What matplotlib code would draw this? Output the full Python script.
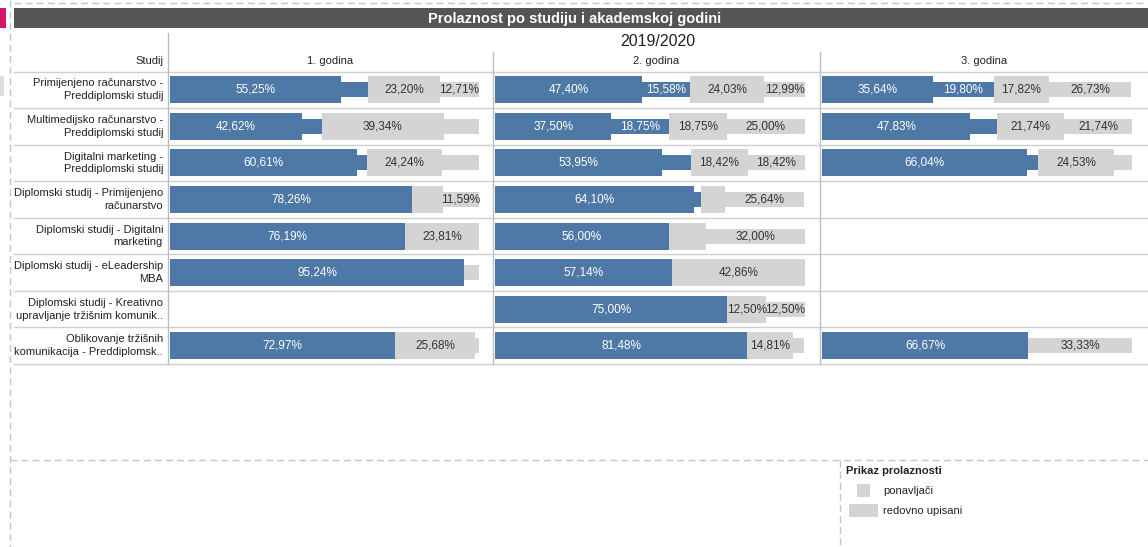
import numpy as np
import matplotlib
matplotlib.use("Agg")
import matplotlib.pyplot as plt
from matplotlib.patches import Rectangle

plt.rcParams['font.family'] = ['Liberation Sans', 'DejaVu Sans']

naslov = "Prolaznost po studiju i akademskoj godini"
akademska_godina = "2019/2020"
godine = ["1. godina", "2. godina", "3. godina"]
studij = [
    "Primijenjeno računarstvo -\nPreddiplomski studij",
    "Multimedijsko računarstvo -\nPreddiplomski studij",
    "Digitalni marketing -\nPreddiplomski studij",
    "Diplomski studij - Primijenjeno\nračunarstvo",
    "Diplomski studij - Digitalni\nmarketing",
    "Diplomski studij - eLeadership\nMBA",
    "Diplomski studij - Kreativno\nupravljanje tržišnim komunik..",
    "Oblikovanje tržišnih\nkomunikacija - Preddiplomsk..",
]

# one list per year (1., 2., 3. godina), one value per study programme (0 = no data)
prolaz_redovni = [
    [55.25, 42.62, 60.61, 78.26, 76.19, 95.24, 0, 72.97],
    [47.40, 37.50, 53.95, 64.10, 56.00, 57.14, 75.00, 81.48],
    [35.64, 47.83, 66.04, 0, 0, 0, 0, 66.67],
]
prolaz_ponavljaci = [
    [8.84, 6.56, 3.03, 0, 0, 0, 0, 0],
    [15.58, 18.75, 9.21, 2.56, 0, 0, 0, 0],
    [19.80, 8.70, 3.77, 0, 0, 0, 0, 0],
]
pad_redovni = [
    [23.20, 39.34, 24.24, 10.14, 23.81, 0, 0, 25.68],
    [24.03, 18.75, 18.42, 7.69, 12.00, 42.86, 12.50, 14.81],
    [17.82, 21.74, 24.53, 0, 0, 0, 0, 0],
]
pad_ponavljaci = [
    [12.71, 11.48, 12.12, 11.59, 0, 4.76, 0, 1.35],
    [12.99, 25.00, 18.42, 25.64, 32.00, 0, 12.50, 3.70],
    [26.73, 21.74, 5.66, 0, 0, 0, 0, 33.33],
]
# labels Tableau hid (year, row, segment)
skrivene_oznake = {(0, 0, 1), (0, 1, 1), (0, 1, 3), (0, 2, 1), (0, 2, 3), (0, 3, 2),
                   (0, 5, 3), (0, 7, 3), (1, 2, 1), (1, 3, 1), (1, 3, 2), (1, 4, 2),
                   (1, 7, 3), (2, 1, 1), (2, 2, 1), (2, 2, 3)}

legenda_naslov = "Prikaz prolaznosti"
legenda_stavke = ["ponavljači", "redovno upisani"]

BLUE = "#4e79a7"
GREY = "#d4d4d4"
TXT = "#333333"
LINE = "#cfcfcf"

W, H = 1148, 547
fig = plt.figure(figsize=(W / 100, H / 100), dpi=100)
bg = fig.add_axes([0, 0, 1, 1])
bg.set_xlim(0, W)
bg.set_ylim(H, 0)
bg.axis("off")

# dashed dashboard borders
dash = dict(color="#b7c7db", lw=1, ls=(0, (5, 3)))
bg.plot([14, W], [3, 3], **dash)
bg.plot([10, 10], [0, H], **dash)
bg.plot([10, W], [460, 460], **dash)
bg.plot([840, 840], [460, H], **dash)
bg.add_patch(Rectangle((0, 8), 6, 20, color="#d1166b", lw=0))
bg.add_patch(Rectangle((0, 76), 4, 20, color="#dddddd", lw=0))

# title bar
bg.add_patch(Rectangle((14, 8), W - 14, 20, color="#555555", lw=0))
bg.text(575, 18.5, naslov, color="white", fontsize=10.5, fontweight="bold",
        ha="center", va="center")

# headers
bg.text(658, 42, akademska_godina, fontsize=11.5, color="#222222", ha="center", va="center")
bg.text(163, 61, "Studij", fontsize=8, color="#222222", ha="right", va="center")
panel_x = [(168, 493), (493, 820), (820, W)]
for (a, b), g in zip(panel_x, godine):
    bg.text((a + b) / 2, 61, g, fontsize=8, color="#222222", ha="center", va="center")

# grid lines
top, bottom = 71.5, 364
rowh = (bottom - top) / len(studij)
for i in range(len(studij) + 1):
    y = top + i * rowh
    bg.plot([14, W], [y, y], color=LINE, lw=1)
bg.plot([168, 168], [33, bottom], color="#bdbdbd", lw=1)
bg.plot([493, 493], [52, bottom], color="#bdbdbd", lw=1)
bg.plot([820, 820], [52, bottom], color="#bdbdbd", lw=1)

for i, s in enumerate(studij):
    bg.text(163, top + (i + 0.5) * rowh, s, fontsize=8, color="#222222",
            ha="right", va="center", linespacing=1.35)

# panels
tall, short = 0.74, 0.41
ax_left = [169, 494.5, 821.5]
ax_w = 323
xmin, xmax = -0.3, 104.2
for k in range(3):
    ax = fig.add_axes([ax_left[k] / W, 1 - bottom / H, ax_w / W, (bottom - top) / H])
    ax.set_xlim(xmin, xmax)
    ax.set_ylim(len(studij) - 0.5, -0.5)
    ax.axis("off")
    ax.patch.set_alpha(0)
    segs = [(prolaz_redovni[k], BLUE, tall, "white"),
            (prolaz_ponavljaci[k], BLUE, short, "white"),
            (pad_redovni[k], GREY, tall, TXT),
            (pad_ponavljaci[k], GREY, short, TXT)]
    left = np.zeros(len(studij))
    for j, (vals, col, h, tc) in enumerate(segs):
        vals = np.asarray(vals, dtype=float)
        rows = np.arange(len(studij))
        m = vals > 0
        ax.barh(rows[m], vals[m], left=left[m], height=h, color=col, lw=0)
        for r in rows[m]:
            if (k, r, j) in skrivene_oznake:
                continue
            lbl = f"{vals[r]:.2f}".replace(".", ",") + "%"
            ax.text(left[r] + vals[r] / 2, r, lbl, fontsize=8.5, color=tc,
                    ha="center", va="center")
        left = left + vals

# legend
bg.text(846, 471, legenda_naslov, fontsize=8, fontweight="bold", color="#222222",
        ha="left", va="center")
bg.add_patch(Rectangle((857, 484), 13, 13, color=GREY, lw=0))
bg.add_patch(Rectangle((849, 504), 29, 13, color=GREY, lw=0))
bg.text(883, 490.5, legenda_stavke[0], fontsize=8, color="#222222", ha="left", va="center")
bg.text(883, 510.5, legenda_stavke[1], fontsize=8, color="#222222", ha="left", va="center")

fig.savefig("out.png", dpi=100)
